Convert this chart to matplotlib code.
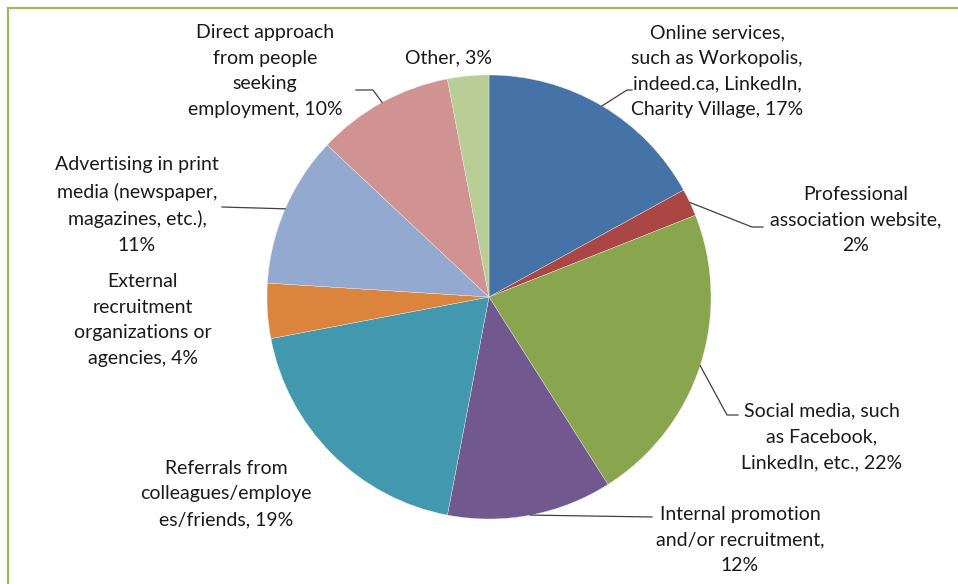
import numpy as np
import matplotlib
matplotlib.use("Agg")
from matplotlib import pyplot as plt
from matplotlib.lines import Line2D

# Data
labels = [
    "Online services,\nsuch as Workopolis,\nindeed.ca, LinkedIn,\nCharity Village, 17%",
    "Professional\nassociation website,\n2%",
    "Social media, such\nas Facebook,\nLinkedIn, etc., 22%",
    "Internal promotion\nand/or recruitment,\n12%",
    "Referrals from\ncolleagues/employe\nes/friends, 19%",
    "External\nrecruitment\norganizations or\nagencies, 4%",
    "Advertising in print\nmedia (newspaper,\nmagazines, etc.),\n11%",
    "Direct approach\nfrom people\nseeking\nemployment, 10%",
    "Other, 3%",
]
values = [17, 2, 22, 12, 19, 4, 11, 10, 3]
colors = ["#4572A7", "#AA4643", "#89A54E", "#71588F", "#4198AF",
          "#DB843D", "#93A9CF", "#D19392", "#B9CD96"]

W, H = 958, 584
fig = plt.figure(figsize=(W / 100, H / 100), dpi=100)
ax = fig.add_axes([0, 0, 1, 1])

cx, cy, r = 489, H - 297, 222
wedges, _ = ax.pie(values, colors=colors, startangle=90, counterclock=False,
                   center=(cx, cy), radius=r, frame=True,
                   wedgeprops=dict(linewidth=0.25, edgecolor="#f0f0f0"))
ax.set_xlim(0, W)
ax.set_ylim(0, H)
ax.axis("off")

# green chart frame, only top and left edges visible (cropped screenshot)
fx, fy = 8.3 / W, 1 - 8.3 / H
fig.add_artist(Line2D([fx, 1.0], [fy, fy], color="#9BBB59", linewidth=1.6,
                      transform=fig.transFigure))
fig.add_artist(Line2D([fx, fx], [0.0, fy], color="#9BBB59", linewidth=1.6,
                      transform=fig.transFigure))

# label centers (pixel, top origin) and leader elbows
label_pos = [(717, 71), (856, 220), (822, 437), (740, 540), (226, 494),
             (143, 320), (137, 205), (265, 71), (449, 58)]
leaders = [
    [(627, 90), (632, 90)],
    [(752, 227), (763, 227)],
    [(727, 415), (738, 415)],
    [(652, 517)],
    None,
    None,
    [(222, 207)],
    [(373, 90), (356, 90)],
    None,
]

font = dict(family=["Lato", "DejaVu Sans"], fontsize=14, color="#1a1a1a")
for w, lab, (lx, ly), ld in zip(wedges, labels, label_pos, leaders):
    ax.text(lx, H - ly, lab, ha="center", va="center", linespacing=1.62,
            **font)
    if ld is None:
        continue
    mid = np.deg2rad((w.theta1 + w.theta2) / 2)
    sx, sy = cx + r * np.cos(mid), cy + r * np.sin(mid)
    xs = [sx] + [p[0] for p in ld]
    ys = [sy] + [H - p[1] for p in ld]
    ax.plot(xs, ys, color="#404040", linewidth=0.9)

fig.savefig("out.png", dpi=100, facecolor="white")
